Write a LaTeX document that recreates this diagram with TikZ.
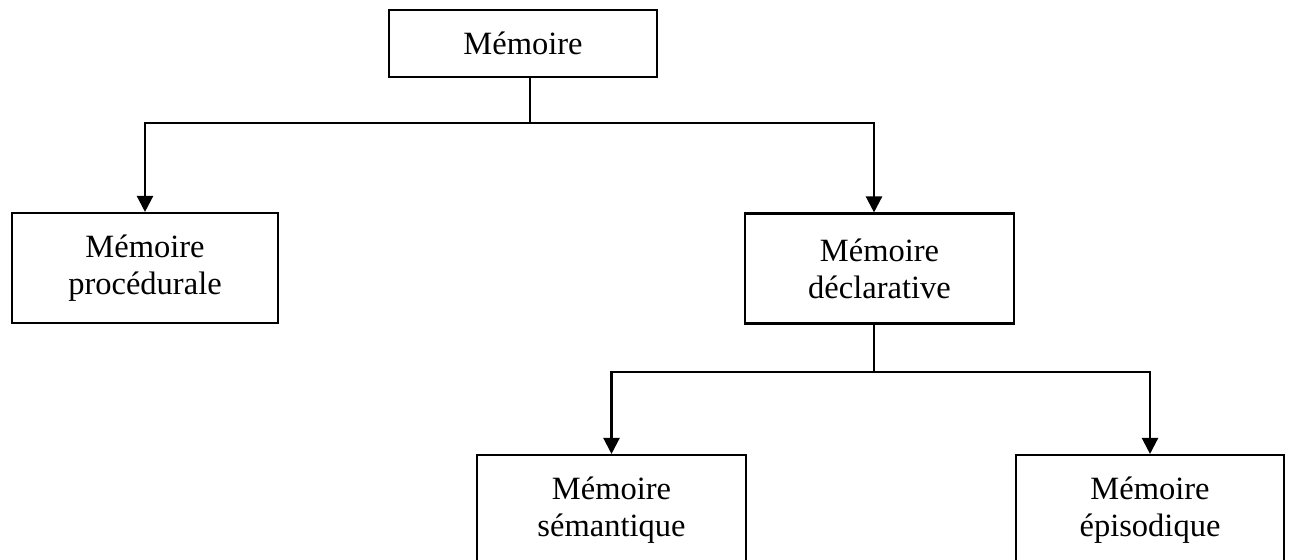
\documentclass[tikz,border=0pt]{standalone}
\usepackage{fontspec}
\setmainfont{Liberation Serif}
\usetikzlibrary{arrows.meta}

\begin{document}
\begin{tikzpicture}[x=0.02cm, y=-0.02cm,
        box/.style={draw, line width=1.2pt, align=center, minimum width=5.36cm, minimum height=2.2cm, font=\fontsize{18.5}{21}\selectfont},
        link/.style={line width=1.3pt},
        arr/.style={line width=1.3pt, -{Triangle[length=0.32cm, width=0.32cm]}}]
        \clip (0,0) rectangle (1291,560);
        \node[box, minimum height=1.34cm] (mem) at (523, 43.5) {Mémoire};
        \node[box, minimum width=5.32cm] (proc) at (145, 268) {Mémoire\\procédurale};
        \node[box, minimum width=5.38cm] (decl) at (879.5, 268.5) {Mémoire\\déclarative};
        \node[box, minimum width=5.38cm] (sem) at (611.5, 510) {Mémoire\\sémantique};
        \node[box] (epi) at (1150, 510) {Mémoire\\épisodique};

        \coordinate (j1) at (530, 123);
        \coordinate (j2) at (874, 372);

        \draw[link] (mem.south -| j1) -- (j1);
        \draw[arr] (j1) -| (proc.north);
        \draw[arr] (j1) -| (decl.north -| j2);
        \draw[link] (decl.south -| j2) -- (j2);
        \draw[arr] (j2) -| (sem.north);
        \draw[arr] (j2) -| (epi.north);
    \end{tikzpicture}
\end{document}
